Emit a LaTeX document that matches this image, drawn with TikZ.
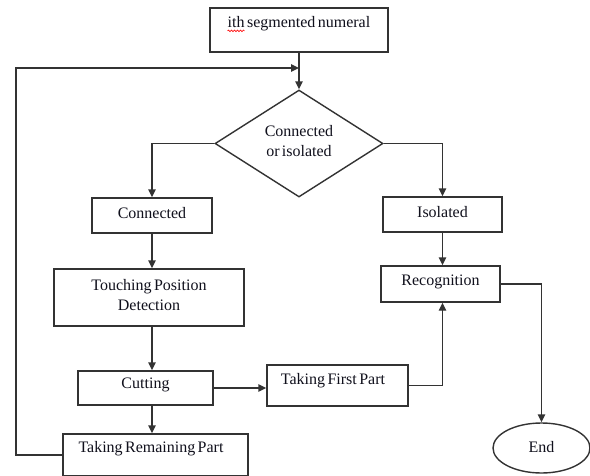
\documentclass[tikz,border=0pt]{standalone}
\usepackage{fontspec}
\setmainfont{Liberation Serif}[WordSpace=0.6]
\usetikzlibrary{arrows.meta,shapes.geometric,decorations.pathmorphing}
\definecolor{linegray}{HTML}{333333}
\definecolor{inkblue}{HTML}{10101C}
\begin{document}
\begin{tikzpicture}[x=1pt,y=-1pt,
  box/.style={draw=linegray, line width=1.4pt, fill=white, inner sep=0pt},
  lbl/.style={text=inkblue, font=\fontsize{16}{19.5}\selectfont, align=center, inner sep=0pt},
  arr/.style={draw=linegray, line width=1.4pt, -{Triangle[length=8pt,width=7.5pt]}},
  ln/.style={draw=linegray, line width=1.4pt}]
\useasboundingbox (0,0) rectangle (590,475);

% boxes
\node[box, minimum width=178, minimum height=44] (top) at (299,30) {};
\node[box, diamond, minimum width=168, minimum height=107] (dia) at (299,143.5) {};
\node[box, minimum width=120, minimum height=35] (conn) at (152,215.5) {};
\node[box, minimum width=119, minimum height=35] (iso) at (442.5,214.5) {};
\node[box, minimum width=190, minimum height=57] (touch) at (149,297.5) {};
\node[box, minimum width=119, minimum height=36] (rec) at (440.5,284) {};
\node[box, minimum width=135, minimum height=34] (cut) at (145.5,388) {};
\node[box, minimum width=141, minimum height=41] (first) at (337.5,385.5) {};
\node[box, minimum width=185, minimum height=42] (rem) at (155.5,455) {};
\node[box, ellipse, minimum width=97, minimum height=50] (end) at (541.5,448) {};

% labels
\node[lbl] (t1) at (299,24) {ith segmented numeral};
\node[lbl] (t2) at (299,141) {Connected\\or isolated};
\node[lbl] (t3) at (152,213) {Connected};
\node[lbl] (t4) at (442.5,212) {Isolated};
\node[lbl] (t5) at (149,295) {Touching Position\\Detection};
\node[lbl] (t6) at (440.5,282) {Recognition};
\node[lbl] (t7) at (145.5,385) {Cutting};
\node[lbl] (t8) at (333,380.5) {Taking First Part};
\node[lbl] (t9) at (151,449) {Taking Remaining Part};
\node[lbl] (t10) at (541.5,447) {End};

% spelling underline
\draw[red, line width=0.6pt, decorate, decoration={snake, amplitude=0.8pt, segment length=3pt}]
  (t1.base west) ++(0,3) -- ++(17,0);

% loop-back corner
\coordinate (lc) at (16,68);

% connectors
\draw[arr] (top.south) -- (dia.north);
\draw[arr] (rem.west) -| (lc) -- (top.south |- lc);
\draw[arr] (dia.west) -| (conn.north);
\draw[arr] (dia.east) -| (iso.north);
\draw[arr] (conn.south) -- (touch.north -| conn.south);
\draw[arr] (touch.south -| conn.south) -- (cut.north -| conn.south);
\draw[arr] (cut.south -| conn.south) -- (rem.north -| conn.south);
\draw[arr] (cut.east) -- (first.west |- cut.east);
\draw[arr] (iso.south) -- (rec.north -| iso.south);
\draw[arr] (first.east) -| (rec.south -| iso.south);
\draw[arr] (rec.east) -| (end.north);
\end{tikzpicture}
\end{document}
